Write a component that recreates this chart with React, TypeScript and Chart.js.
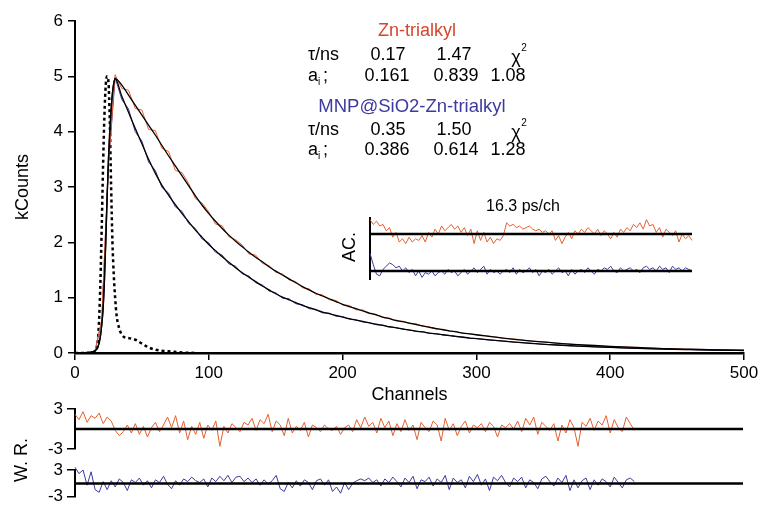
import React, { useEffect, useRef } from 'react';
import { Chart, registerables } from 'chart.js';
Chart.register(...registerables);

const W = 763;
const H = 511;
const FONT = '"Liberation Sans", Arial, Helvetica, sans-serif';
Chart.defaults.font.family = FONT;
Chart.defaults.color = '#000';

const ORANGE = '#E5602E';
const BLUE = '#3B3AA0';
const ORANGE_TEXT = '#D4472B';
const BLUE_TEXT = '#3E3A9E';

// ---- main decay panel ----
const xTicks = [0, 100, 200, 300, 400, 500];
const yTicks = [0, 1, 2, 3, 4, 5, 6];

const fitChannels = [0, 10, 14, 17, 19, 21, 22, 23, 24, 25, 26, 27, 28, 29, 30,
  35, 40, 45, 50, 55, 60, 65, 70, 75, 80, 85, 90, 95, 100, 105, 110, 115, 120, 125, 130,
  135, 140, 145, 150, 155, 160, 165, 170, 175, 180, 185, 190, 195, 200, 205, 210, 215, 220,
  225, 230, 235, 240, 245, 250, 255, 260, 265, 270, 275, 280, 285, 290, 295, 300,
  320, 340, 360, 380, 400, 420, 440, 460, 480, 500];

const orangeFit = [0, 0.01, 0.03, 0.1, 0.3, 0.8, 1.3, 2.0, 2.8, 3.5, 4.0, 4.4, 4.7, 4.88, 4.96,
  4.84, 4.66, 4.48, 4.30, 4.12, 3.94, 3.75, 3.56, 3.38, 3.20,
  3.02, 2.84, 2.67, 2.52, 2.38, 2.25, 2.13, 2.02, 1.92, 1.82,
  1.73, 1.65, 1.56, 1.48, 1.41, 1.34, 1.27, 1.20, 1.14, 1.08,
  1.03, 0.98, 0.93, 0.88, 0.84, 0.80, 0.76, 0.72, 0.69, 0.65,
  0.62, 0.59, 0.565, 0.54, 0.515, 0.49, 0.465, 0.44, 0.42, 0.40,
  0.38, 0.36, 0.345, 0.33,
  0.27, 0.22, 0.18, 0.145, 0.12, 0.10, 0.08, 0.068, 0.058, 0.05];

const blueFit = [0, 0.01, 0.03, 0.1, 0.3, 0.8, 1.3, 2.0, 2.8, 3.5, 4.0, 4.4, 4.7, 4.88, 4.96,
  4.64, 4.35, 4.06, 3.78, 3.50, 3.25, 3.03, 2.85, 2.68, 2.52,
  2.37, 2.22, 2.09, 1.96, 1.85, 1.74, 1.64, 1.54, 1.45, 1.37,
  1.29, 1.21, 1.14, 1.07, 1.01, 0.96, 0.91, 0.86, 0.82, 0.78,
  0.74, 0.71, 0.68, 0.65, 0.62, 0.595, 0.57, 0.545, 0.52, 0.50,
  0.475, 0.455, 0.435, 0.415, 0.395, 0.38, 0.36, 0.345, 0.33, 0.315,
  0.30, 0.285, 0.27, 0.26,
  0.215, 0.175, 0.145, 0.12, 0.10, 0.084, 0.07, 0.06, 0.051, 0.044];

const dataChannels = [15, 20, 25, 30, 35, 40, 45, 50, 55, 60, 65, 70, 75, 80, 85, 90, 95, 100,
  105, 110, 115, 120, 125, 130, 135, 140, 145, 150, 155, 160, 165, 170, 175, 180, 185, 190,
  195, 200, 205, 210, 215, 220, 225, 230, 235, 240, 245, 250, 255, 260, 265, 270, 275, 280,
  285, 290, 295, 300, 310, 320, 330, 340, 350, 360, 370, 380, 390, 400, 410, 420, 430, 440,
  450, 460, 470, 480, 490, 500];

const orangeData = [0.04, 0.60, 3.42, 5.03, 4.78, 4.75, 4.42, 4.39, 4.04, 4.02,
  3.70, 3.64, 3.30, 3.26, 3.06, 2.79, 2.71, 2.55, 2.33, 2.30,
  2.10, 2.05, 1.95, 1.79, 1.77, 1.62, 1.58, 1.46, 1.43, 1.32,
  1.29, 1.18, 1.16, 1.06, 1.05, 0.96, 0.95, 0.87, 0.86, 0.78,
  0.78, 0.71, 0.70, 0.64, 0.63, 0.58, 0.575, 0.53, 0.525, 0.48,
  0.475, 0.43, 0.43, 0.39, 0.39, 0.355, 0.35, 0.325,
  0.305, 0.265, 0.25, 0.215, 0.205, 0.175, 0.165, 0.14, 0.135, 0.115,
  0.113, 0.097, 0.092, 0.078, 0.076, 0.066, 0.065, 0.056, 0.055, 0.049];

const blueData = [0.04, 0.58, 3.40, 4.98, 4.58, 4.41, 4.00, 3.83, 3.45, 3.30,
  2.99, 2.89, 2.64, 2.56, 2.34, 2.25, 2.06, 1.99, 1.82, 1.77,
  1.61, 1.57, 1.43, 1.39, 1.27, 1.23, 1.12, 1.09, 0.99, 0.98,
  0.89, 0.875, 0.80, 0.79, 0.725, 0.72, 0.665, 0.66, 0.61, 0.60,
  0.56, 0.55, 0.51, 0.505, 0.465, 0.46, 0.428, 0.42, 0.388, 0.385,
  0.354, 0.35, 0.325, 0.318, 0.295, 0.288, 0.266, 0.262,
  0.232, 0.218, 0.192, 0.178, 0.158, 0.147, 0.13, 0.122, 0.108, 0.101,
  0.09, 0.085, 0.076, 0.071, 0.064, 0.061, 0.054, 0.052, 0.046, 0.045];

const irfChannels = [0, 10, 15, 17, 18, 19, 20, 21, 22, 23, 24, 25, 26, 27, 28, 29, 30, 31,
  33, 36, 40, 45, 50, 55, 60, 65, 70, 80, 90];
const irfValues = [0, 0, 0.02, 0.2, 0.6, 1.3, 2.3, 3.4, 4.3, 4.85, 5.0, 4.9, 4.2, 3.0, 2.0,
  1.4, 1.0, 0.7, 0.45, 0.3, 0.27, 0.24, 0.17, 0.1, 0.06, 0.04, 0.03, 0.01, 0];

// ---- weighted residuals ----
const resTicks = [-3, 3];
const orangeResidual = [2.2, 1.4, 2.6, 1.0, 2.0, 1.6, 2.4, 0.8, 1.8, 1.2, -0.2, -1.0, -0.4, 0.6, -0.6, 0.8, -0.8, 0.4, -1.2, 0.2,
  1.0, -0.4, 0.6, 1.8, 0.2, 2.0, -0.6, 1.2, -1.6, 0.4, -0.8, 1.0, -1.4, 0.6, -0.2, 1.2, -2.6, 0.4, -0.6, 0.8,
  0.2, -0.4, 1.0, 0.6, 1.6, -0.2, 1.4, 0.8, 2.2, -0.4, 1.2, 0.6, -1.0, 1.6, -0.6, 0.4, -0.2, 1.0, -1.2, 0.6,
  0.2, -0.4, 0.6, 0.0, -0.2, 0.4, -0.8, 0.2, 0.6, -0.4, 1.4, 0.2, 1.8, 0.4, 1.0, -0.6, 1.6, 0.2, 1.2, -1.0,
  0.8, -0.4, 1.4, -0.2, 0.6, -1.6, 1.0, 0.2, -0.4, 1.2, 0.6, -1.8, 1.6, -0.2, 0.8, -1.0, 0.4, 1.2, -0.6, 0.6,
  0.2, 0.8, -0.4, 1.0, 0.4, -1.2, 0.6, 0.2, 0.8, 0.0, 1.2, -0.4, 1.6, 0.6, 1.8, -0.8, 1.0, 0.4, -0.2, 0.8,
  -1.8, 0.6, -0.6, 1.4, 0.2, -2.6, 1.0, 0.4, 1.6, -0.2, 1.2, 0.6, 2.0, -0.6, 1.4, 0.2, -0.4, 1.8, 0.8, -0.2];
const blueResidual = [3.6, 2.2, 3.0, -0.4, 2.6, -1.4, -2.0, 0.4, -1.4, 0.6, -0.8, 1.0, 0.2, -1.6, 0.8, 0.2, 1.2, -0.4, 0.6, -1.0,
  0.8, 0.2, 1.6, -0.2, -1.2, 0.6, -0.4, 1.0, 0.4, 1.4, 0.6, 0.2, 1.0, -0.8, 1.2, 0.4, 1.6, 0.6, 1.8, 0.2,
  1.4, 1.6, 0.4, 1.2, 0.2, 1.0, -0.4, 0.8, -0.2, 0.6, 1.8, -1.2, -1.8, 0.2, -1.0, 0.6, -0.6, 0.8, 0.2, -1.4,
  0.6, 1.0, -0.4, 0.8, -1.8, -0.8, -2.2, 0.2, -1.4, 0.0, 0.6, 1.0, 0.6, 1.2, 0.2, 0.8, -0.6, 1.0, 0.2, 1.4,
  0.4, -0.8, 1.2, 0.2, 1.6, -1.2, 0.8, 0.4, 1.4, -0.6, 1.0, 0.2, 1.8, -1.4, 1.2, 0.2, 0.8, -1.0, 1.6, 0.4,
  2.0, -0.4, 1.0, -1.6, 1.4, 0.6, 1.8, 0.2, -0.8, 1.2, 0.4, 1.4, -1.0, 0.8, 0.2, -1.2, 1.0, 1.6, 0.4, -0.6,
  1.2, 0.2, 1.8, -1.6, 0.8, -1.0, 0.6, 1.2, -1.4, 0.8, -0.4, 1.0, 0.4, -0.8, 1.4, 0.2, -1.0, 0.8, 1.2, 0.4];
const RES_X_MAX = 166;

// ---- autocorrelation inset ----
const orangeAC = [0.9, 0.6, 0.8, 0.5, 0.6, 0.2, 0.4, -0.2, 0.1, -0.5, -0.3, -0.6, -0.2, -0.5, -0.3, -0.4, -0.1, -0.5, 0.1, -0.2,
  0.3, 0.0, 0.5, 0.2, 0.4, 0.6, 0.3, 0.5, 0.1, 0.4, -0.1, 0.3, -0.6, 0.2, -0.4, 0.1, -0.5, -0.2, -0.6, -0.3,
  -0.4, -0.1, 0.7, 0.5, 0.6, 0.4, 0.5, 0.3, 0.4, 0.5, 0.3, 0.2, 0.3, 0.1, 0.2, 0.0, 0.2, -0.4, -0.1, -0.6,
  -0.2, 0.1, -0.3, 0.2, 0.0, 0.3, 0.1, 0.4, 0.2, 0.0, 0.3, -0.1, 0.2, 0.0, -0.3, 0.1, -0.2, 0.3, 0.1, 0.4,
  0.2, 0.6, 0.4, 0.7, 0.3, 0.9, 0.5, 0.6, 0.1, 0.4, -0.2, 0.3, 0.1, -0.1, 0.2, -0.5, 0.0, -0.3, -0.1, -0.4];
const blueAC = [1.1, 0.4, -0.2, -0.3, 0.1, 0.3, 0.5, 0.4, 0.2, 0.3, 0.0, 0.2, -0.1, 0.1, -0.3, 0.0, -0.4, -0.1, -0.2, 0.0,
  -0.3, -0.1, 0.0, -0.2, 0.1, -0.1, 0.0, -0.3, -0.1, 0.1, -0.2, 0.0, 0.2, -0.1, 0.1, 0.3, -0.2, 0.1, -0.1, 0.0,
  -0.2, 0.0, 0.1, -0.1, 0.2, -0.2, 0.1, -0.1, 0.0, 0.2, -0.1, 0.1, -0.3, 0.0, -0.1, 0.1, -0.2, 0.0, 0.2, -0.1,
  0.0, -0.3, 0.1, -0.2, 0.0, 0.1, -0.1, 0.2, 0.0, -0.2, 0.1, 0.0, 0.2, 0.1, 0.3, 0.0, -0.1, 0.2, 0.0, 0.1,
  0.2, 0.0, 0.1, -0.1, 0.2, 0.3, 0.1, 0.2, 0.0, 0.3, 0.1, 0.2, -0.1, 0.3, 0.1, 0.2, 0.0, 0.2, 0.1, 0.0];

// ---- fit table text ----
const titleOrange = 'Zn-trialkyl';
const titleBlue = 'MNP@SiO2-Zn-trialkyl';
const tauOrange = ['0.17', '1.47'];
const ampOrange = ['0.161', '0.839'];
const chiOrange = '1.08';
const tauBlue = ['0.35', '1.50'];
const ampBlue = ['0.386', '0.614'];
const chiBlue = '1.28';

const f = (s: number) => `${s}px ${FONT}`;

const textPlugin = {
  id: 'figureText',
  afterDraw(chart: any) {
    const ctx = chart.ctx as CanvasRenderingContext2D;
    ctx.save();
    ctx.textBaseline = 'middle';
    const put = (t: string, x: number, y: number, align: CanvasTextAlign = 'center', size = 18, color = '#000') => {
      ctx.font = f(size);
      ctx.fillStyle = color;
      ctx.textAlign = align;
      ctx.fillText(t, x, y);
    };
    const tauRow = (y: number, vals: string[]) => {
      put('τ/ns', 308, y, 'left');
      put(vals[0], 388, y);
      put(vals[1], 454, y);
      put('χ', 516, y + 3);
      put('2', 524, y - 7, 'center', 10);
    };
    const ampRow = (y: number, vals: string[], chi: string) => {
      ctx.font = f(18);
      const wa = ctx.measureText('a').width;
      put('a', 308, y, 'left');
      put('i', 308 + wa, y + 6, 'left', 10);
      put(';', 308 + wa + 5, y, 'left');
      put(vals[0], 387, y);
      put(vals[1], 456, y);
      put(chi, 508, y);
    };
    put(titleOrange, 417, 31, 'center', 18, ORANGE_TEXT);
    tauRow(55, tauOrange);
    ampRow(76, ampOrange, chiOrange);
    put(titleBlue, 412, 107, 'center', 18.5, BLUE_TEXT);
    tauRow(130, tauBlue);
    ampRow(150, ampBlue, chiBlue);

    put('16.3 ps/ch', 523, 207, 'center', 16);

    const rot = (t: string, x: number, y: number) => {
      ctx.save();
      ctx.translate(x, y);
      ctx.rotate(-Math.PI / 2);
      put(t, 0, 0, 'center', 18);
      ctx.restore();
    };
    rot('AC.', 350, 247);
    rot('W. R.', 22, 460);
    ctx.restore();
  },
};

const axisGrid = { drawOnChartArea: false, drawTicks: true, tickLength: 7, color: '#000', lineWidth: 1.5 };

function mainConfig(): any {
  const pts = (xs: number[], ys: number[]) => xs.map((x, i) => ({ x, y: ys[i] }));
  return {
    type: 'line',
    data: {
      datasets: [
        { data: pts(fitChannels, orangeFit), borderColor: '#000', borderWidth: 1.3, pointRadius: 0, cubicInterpolationMode: 'monotone' },
        { data: pts(fitChannels, blueFit), borderColor: '#000', borderWidth: 1.3, pointRadius: 0, cubicInterpolationMode: 'monotone' },
        { data: pts(dataChannels, orangeData), borderColor: ORANGE, borderWidth: 1, pointRadius: 0 },
        { data: pts(dataChannels, blueData), borderColor: BLUE, borderWidth: 1, pointRadius: 0 },
        { data: pts(irfChannels, irfValues), borderColor: '#000', borderWidth: 2.5, borderDash: [3, 3], pointRadius: 0, cubicInterpolationMode: 'monotone' },
      ],
    },
    options: {
      responsive: false,
      animation: false,
      events: [],
      plugins: { legend: { display: false }, tooltip: { enabled: false } },
      layout: { padding: { left: 0, top: 21, right: 19, bottom: 103 } },
      scales: {
        x: {
          type: 'linear', min: xTicks[0], max: xTicks[xTicks.length - 1],
          afterBuildTicks: (s: any) => { s.ticks = xTicks.map((v) => ({ value: v })); },
          ticks: { font: { size: 17 }, color: '#000', padding: 3, maxRotation: 0 },
          grid: axisGrid,
          border: { color: '#000', width: 2.5 },
          title: { display: true, text: 'Channels', font: { size: 18 }, color: '#000', padding: { top: 0, bottom: 2 } },
          afterFit: (s: any) => { s.height = 55; },
        },
        y: {
          type: 'linear', min: yTicks[0], max: yTicks[yTicks.length - 1],
          afterBuildTicks: (s: any) => { s.ticks = yTicks.map((v) => ({ value: v })); },
          ticks: { font: { size: 17 }, color: '#000', padding: 5 },
          grid: axisGrid,
          border: { color: '#000', width: 2 },
          title: { display: true, text: 'kCounts', font: { size: 18 }, color: '#000', padding: { top: 12, bottom: 0 } },
          afterFit: (s: any) => { s.width = 75; },
        },
      },
    },
    plugins: [textPlugin],
  };
}

function residualConfig(values: number[], color: string, top: number, bottom: number): any {
  return {
    type: 'line',
    data: {
      datasets: [
        { data: [{ x: 0, y: 0 }, { x: RES_X_MAX, y: 0 }], borderColor: '#000', borderWidth: 2.5, pointRadius: 0 },
        { data: values.map((v, i) => ({ x: i, y: v })), borderColor: color, borderWidth: 1, pointRadius: 0, clip: false },
      ],
    },
    options: {
      responsive: false,
      animation: false,
      events: [],
      plugins: { legend: { display: false }, tooltip: { enabled: false } },
      layout: { padding: { left: 0, top, right: W - 743, bottom: H - bottom } },
      scales: {
        x: { type: 'linear', min: 0, max: RES_X_MAX, display: false },
        y: {
          type: 'linear', min: resTicks[0], max: resTicks[1],
          afterBuildTicks: (s: any) => { s.ticks = resTicks.map((v) => ({ value: v })); },
          ticks: { font: { size: 17 }, color: '#000', padding: 4 },
          grid: { ...axisGrid, tickLength: 8 },
          border: { color: '#000', width: 2 },
          afterFit: (s: any) => { s.width = 75; },
        },
      },
    },
  };
}

function insetConfig(): any {
  const n = orangeAC.length - 1;
  return {
    type: 'line',
    data: {
      datasets: [
        { data: [{ x: 0, y: 0 }, { x: n, y: 0 }], yAxisID: 'yO', borderColor: '#000', borderWidth: 2.5, pointRadius: 0 },
        { data: [{ x: 0, y: 0 }, { x: n, y: 0 }], yAxisID: 'yB', borderColor: '#000', borderWidth: 2.5, pointRadius: 0 },
        { data: orangeAC.map((v, i) => ({ x: i, y: v })), yAxisID: 'yO', borderColor: ORANGE, borderWidth: 1, pointRadius: 0, clip: false },
        { data: blueAC.map((v, i) => ({ x: i, y: v })), yAxisID: 'yB', borderColor: BLUE, borderWidth: 1, pointRadius: 0, clip: false },
      ],
    },
    options: {
      responsive: false,
      animation: false,
      events: [],
      plugins: { legend: { display: false }, tooltip: { enabled: false } },
      layout: { padding: { left: 370, top: 218, right: W - 692, bottom: H - 279 } },
      scales: {
        x: { type: 'linear', min: 0, max: n, display: false },
        yO: {
          type: 'linear', position: 'left', min: -2.8125, max: 1,
          ticks: { display: false },
          grid: { display: false },
          border: { color: '#000', width: 2 },
          afterFit: (s: any) => { s.width = 0; },
        },
        yB: { type: 'linear', position: 'left', min: -0.5, max: 3.3125, display: false },
      },
    },
  };
}

export default function App() {
  const mainRef = useRef<HTMLCanvasElement>(null);
  const insetRef = useRef<HTMLCanvasElement>(null);
  const resORef = useRef<HTMLCanvasElement>(null);
  const resBRef = useRef<HTMLCanvasElement>(null);

  useEffect(() => {
    const charts = [
      new Chart(mainRef.current as HTMLCanvasElement, mainConfig()),
      new Chart(insetRef.current as HTMLCanvasElement, insetConfig()),
      new Chart(resORef.current as HTMLCanvasElement, residualConfig(orangeResidual, ORANGE, 409, 449)),
      new Chart(resBRef.current as HTMLCanvasElement, residualConfig(blueResidual, BLUE, 470, 507)),
    ];
    return () => charts.forEach((c) => c.destroy());
  }, []);

  const cs: React.CSSProperties = { position: 'absolute', left: 0, top: 0, width: W, height: H };
  return (
    <div style={{ position: 'absolute', left: 0, top: 0, width: W, height: H, background: '#fff', overflow: 'hidden' }}>
      <canvas ref={mainRef} width={W} height={H} style={cs} />
      <canvas ref={insetRef} width={W} height={H} style={cs} />
      <canvas ref={resORef} width={W} height={H} style={cs} />
      <canvas ref={resBRef} width={W} height={H} style={cs} />
    </div>
  );
}
